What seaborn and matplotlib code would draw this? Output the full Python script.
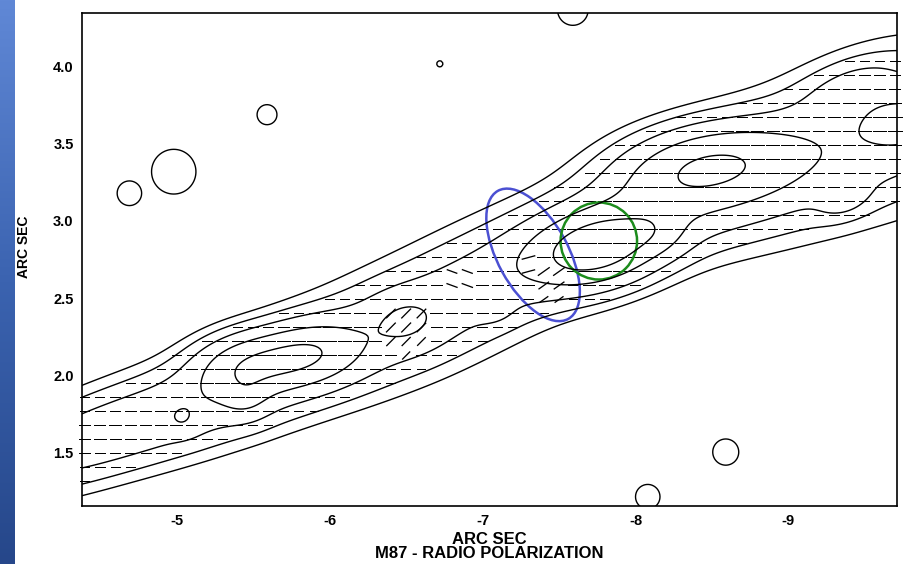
import numpy as np
import matplotlib
matplotlib.use("Agg")
import matplotlib.pyplot as plt
from matplotlib.patches import Ellipse, Circle
import seaborn as sns

# --- datos (segundos de arco) ---
# cresta del chorro: cadena de gaussianas alargadas
ridge_x = [-4.10, -4.55, -5.00, -5.45, -5.90, -6.35, -6.80, -7.25, -7.70, -8.15, -8.60, -9.05, -9.50, -9.95]
ridge_y = [1.47, 1.63, 1.77, 1.93, 2.12, 2.27, 2.48, 2.72, 2.88, 3.08, 3.22, 3.38, 3.55, 3.68]
ridge_amp = [3.2, 3.2, 3.2, 3.0, 3.0, 3.0, 3.0, 3.0, 3.0, 3.2, 3.2, 3.2, 3.2, 3.2]
ridge_wid = [0.17, 0.18, 0.19, 0.20, 0.21, 0.23, 0.24, 0.23, 0.22, 0.23, 0.25, 0.28, 0.30, 0.31]
ridge_ang = [161, 161, 161, 158, 156, 156, 156, 157, 158, 160, 162, 162, 162, 162]

# nudos dentro del chorro: centro, amplitud, sigma largo/ancho, angulo
knot_x = [-5.45, -5.85, -5.45, -6.50, -7.75, -8.14, -8.45, -9.75, -9.37, -9.40, -7.07, -5.04]
knot_y = [2.07, 2.14, 1.86, 2.35, 2.82, 2.93, 3.36, 3.64, 3.13, 3.88, 2.45, 1.71]
knot_amp = [8.0, 8.0, 3.0, 3.0, 14.0, 3.0, 10.0, 4.0, 2.5, 2.5, 2.0, 2.0]
knot_len = [0.22, 0.22, 0.10, 0.12, 0.27, 0.10, 0.38, 0.20, 0.12, 0.22, 0.07, 0.07]
knot_wid = [0.13, 0.13, 0.10, 0.15, 0.15, 0.13, 0.17, 0.13, 0.07, 0.10, 0.08, 0.07]
knot_ang = [172, 172, 0, 90, 168, 90, 172, 0, 160, 160, 90, 90]

# manchas aisladas (ruido del mapa): centro y radio del contorno
blob_x = [-4.69, -4.98, -5.59, -6.72, -7.59, -8.59, -8.08]
blob_y = [3.18, 3.32, 3.69, 4.02, 4.37, 1.50, 1.21]
blob_r = [0.080, 0.145, 0.065, 0.020, 0.100, 0.085, 0.080]

levels = [1.0, 2.0, 4.0, 8.0, 14.0]

# zonas donde los vectores de polarizacion se inclinan (angulo en pantalla)
tilt_x = [-6.50, -7.45, -6.85, -7.30]
tilt_y = [2.28, 2.55, 2.62, 2.70]
tilt_r = [0.16, 0.15, 0.12, 0.10]
tilt_deg = [45, 35, -20, 15]

x_ticks = [-5, -6, -7, -8, -9]
y_ticks = [1.5, 2.0, 2.5, 3.0, 3.5, 4.0]


def gauss(X, Y, x0, y0, a, sl, sw, g):
    t = np.deg2rad(g)
    u = (X - x0) * np.cos(t) + (Y - y0) * np.sin(t)
    v = -(X - x0) * np.sin(t) + (Y - y0) * np.cos(t)
    return a * np.exp(-0.5 * (u / sl) ** 2 - 0.5 * (v / sw) ** 2)


def campo(X, Y):
    Z = np.zeros_like(X)
    for x0, y0, a, w, g in zip(ridge_x, ridge_y, ridge_amp, ridge_wid, ridge_ang):
        Z += gauss(X, Y, x0, y0, a, 0.40, w, g)
    for k in zip(knot_x, knot_y, knot_amp, knot_len, knot_wid, knot_ang):
        Z += gauss(X, Y, *k)
    return Z


sns.set_theme(style="white")
plt.rcParams['font.family'] = ['Liberation Sans', 'DejaVu Sans']
plt.rcParams['text.color'] = 'black'
plt.rcParams['axes.labelcolor'] = 'black'
plt.rcParams['xtick.color'] = 'black'
plt.rcParams['ytick.color'] = 'black'

gx = np.linspace(-10.0, -4.0, 540)
gy = np.linspace(1.0, 4.6, 340)
X, Y = np.meshgrid(gx, gy)
Z = campo(X, Y)
B = np.zeros_like(X)
for x0, y0, r in zip(blob_x, blob_y, blob_r):
    B = np.maximum(B, gauss(X, Y, x0, y0, 1.5, r / 0.9, r / 0.9, 0))
Z += B

fig = plt.figure(figsize=(9.09, 5.64), dpi=100)
fig.patch.set_facecolor('white')

# franja azul de la diapositiva
strip = fig.add_axes([0, 0, 15 / 909, 1])
grad = np.linspace(0, 1, 256).reshape(-1, 1)
cmap = matplotlib.colors.LinearSegmentedColormap.from_list('strip', ['#6088d6', '#3b63b0', '#26478a'])
strip.imshow(grad, aspect='auto', cmap=cmap)
strip.set_axis_off()

ax = fig.add_axes([82 / 909, 58 / 564, 815 / 909, 493 / 564])
ax.contour(X, Y, Z, levels=levels, colors='black', linewidths=1.0)

# vectores de polarizacion: filas cada 14 px, centradas en pixel
px = np.arange(-9.70, -4.38, 0.10)
py = 1.15 + np.arange(10.5, 493, 14) * 3.2 / 493
PX, PY = np.meshgrid(px, py)
zi = campo(PX, PY)
ang = np.zeros_like(PX)
for x0, y0, r, d in zip(tilt_x, tilt_y, tilt_r, tilt_deg):
    ang[np.hypot(PX - x0, PY - y0) < r] = 180 - d
sel = zi > 2.0
ln = np.clip(0.055 + 0.004 * zi, 0.06, 0.095)
U = ln * np.cos(np.deg2rad(ang))
V = ln * np.sin(np.deg2rad(ang))
ax.quiver(PX[sel], PY[sel], U[sel], V[sel], angles='xy', scale_units='xy', scale=1,
          pivot='middle', headwidth=0, headlength=0, headaxislength=0,
          width=0.0016, color='black', clip_on=False)

ax.add_patch(Ellipse((-7.33, 2.78), 0.95, 0.46, angle=61, fill=False, ec='#4b50d2', lw=1.8))
ax.add_patch(Circle((-7.76, 2.87), 0.25, fill=False, ec='#1c8c1c', lw=1.8))

ax.set_xlim(-4.38, -9.71)
ax.set_ylim(1.15, 4.35)
ax.set_xticks(x_ticks)
ax.set_xticklabels([str(t) for t in x_ticks])
ax.set_yticks(y_ticks)
ax.set_yticklabels([f"{t:.1f}" for t in y_ticks])
ax.tick_params(direction='in', length=12.5, width=1.0, colors='black', labelsize=10.5,
               top=False, right=False, pad=6)
for lab in ax.get_xticklabels() + ax.get_yticklabels():
    lab.set_fontweight('bold')
for s in ax.spines.values():
    s.set_color('black')
    s.set_linewidth(1.2)
ax.set_xlabel("ARC SEC\nM87 - RADIO POLARIZATION", fontsize=12, fontweight='bold',
              linespacing=0.85, labelpad=3)
ax.set_ylabel("ARC SEC", fontsize=10, fontweight='bold')
ax.yaxis.set_label_coords(-0.062, 0.525)

plt.savefig("out.png", dpi=100)
plt.close()
